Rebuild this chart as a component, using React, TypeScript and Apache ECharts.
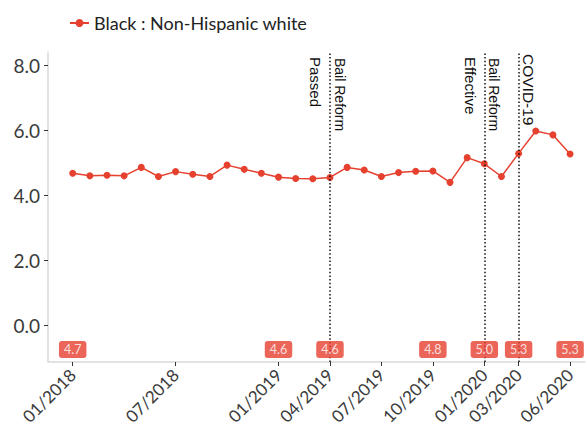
import React, { useEffect, useRef } from 'react';
import * as echarts from 'echarts';

const seriesName = 'Black : Non-Hispanic white';
// monthly values 01/2018 .. 06/2020
const values = [
  4.69, 4.61, 4.63, 4.61, 4.87, 4.59, 4.74, 4.66, 4.59, 4.94, 4.81, 4.69,
  4.57, 4.53, 4.52, 4.56, 4.87, 4.79, 4.59, 4.71, 4.75, 4.76, 4.41, 5.17,
  4.98, 4.59, 5.3, 5.99, 5.87, 5.28,
];
const tickIdx = [0, 6, 12, 15, 18, 21, 24, 26, 29];
const tickLabels = ['01/2018', '07/2018', '01/2019', '04/2019', '07/2019', '10/2019', '01/2020', '03/2020', '06/2020'];
const yTicks = [0, 2, 4, 6, 8];
const badgeIdx = [0, 12, 15, 21, 24, 26, 29];
const badgeLabels = ['4.7', '4.6', '4.6', '4.8', '5.0', '5.3', '5.3'];
const eventIdx = [15, 24, 26];
const eventRight = ['Bail Reform', 'Bail Reform', 'COVID-19'];
const eventLeft = ['Passed', 'Effective', ''];

const RED = '#e6402f';
const FONT = 'Lato, "Noto Sans", sans-serif';
const ANN_FONT = '"Liberation Sans", Arial, sans-serif';
const X_MIN = -1.44;
const X_MAX = 29.87;
const Y_MIN = -1.117;
const Y_MAX = 8.42;
const BADGE_Y = -0.73;

export default function App() {
  const ref = useRef<HTMLDivElement>(null);
  useEffect(() => {
    if (!ref.current) return;
    const chart = echarts.init(ref.current, undefined, { renderer: 'svg' });
    const option: any = {
      animation: false,
      backgroundColor: '#ffffff',
      legend: {
        data: [seriesName],
        left: 64,
        top: 9,
        itemWidth: 19,
        itemHeight: 10,
        itemGap: 5,
        textStyle: { fontFamily: FONT, fontSize: 18, color: '#222', padding: [0, 0, 0, 0] },
      },
      grid: { left: 48, right: 2, top: 52, bottom: 66, outerBoundsMode: 'none' },
      xAxis: {
        type: 'value',
        min: X_MIN,
        max: X_MAX,
        axisLine: { show: true, onZero: false, lineStyle: { color: '#d9d9d9', width: 1.5 } },
        axisTick: { show: true, customValues: tickIdx, length: 4, lineStyle: { color: '#333' } },
        axisLabel: {
          customValues: tickIdx,
          rotate: 45,
          margin: 10,
          fontFamily: FONT,
          fontSize: 17,
          color: '#3a3a3a',
          formatter: (v: number) => {
            const k = tickIdx.indexOf(Math.round(v));
            return k >= 0 ? tickLabels[k] : '';
          },
        },
        splitLine: { show: false },
      },
      yAxis: {
        type: 'value',
        min: Y_MIN,
        max: Y_MAX,
        axisLine: { show: true, onZero: false, lineStyle: { color: '#d9d9d9', width: 1.5 } },
        axisTick: { show: true, customValues: yTicks, length: 4, lineStyle: { color: '#333' } },
        axisLabel: {
          customValues: yTicks,
          margin: 8,
          fontFamily: FONT,
          fontSize: 19,
          color: '#3a3a3a',
          formatter: (v: number) => v.toFixed(1),
        },
        splitLine: { show: false },
      },
      series: [
        {
          type: 'line',
          name: seriesName,
          data: values.map((v, i) => [i, v]),
          symbol: 'circle',
          symbolSize: 7,
          lineStyle: { color: RED, width: 1.5 },
          itemStyle: { color: RED },
          markLine: {
            silent: true,
            symbol: ['none', 'none'],
            label: { show: false },
            lineStyle: { type: [1.5, 2.2], color: '#111', width: 1.5 },
            emphasis: { disabled: true },
            data: eventIdx.map((i) => ({ xAxis: i })),
          },
          z: 3,
        },
        {
          type: 'scatter',
          name: 'badges',
          data: badgeIdx.map((i) => [i, BADGE_Y]),
          symbol: 'circle',
          symbolSize: 0.1,
          itemStyle: { color: 'rgba(0,0,0,0)' },
          label: {
            show: true,
            position: 'inside',
            formatter: (p: any) => badgeLabels[p.dataIndex],
            backgroundColor: RED,
            color: '#fff',
            fontFamily: FONT,
            fontSize: 12.5,
            lineHeight: 13,
            padding: [2, 5, 2, 5],
            borderRadius: 3,
          },
          z: 5,
        },
      ],
    };
    chart.setOption(option);

    const top = chart.convertToPixel({ yAxisIndex: 0 }, Y_MAX) as number;
    const gfx: any[] = [];
    eventIdx.forEach((idx, k) => {
      const x = chart.convertToPixel({ xAxisIndex: 0 }, idx) as number;
      const isCovid = eventRight[k] === 'COVID-19';
      gfx.push({
        type: 'text',
        x: x + 10,
        y: top + (isCovid ? 2 : 6),
        rotation: -Math.PI / 2,
        silent: true,
        style: {
          text: eventRight[k],
          fontFamily: ANN_FONT,
          fontSize: isCovid ? 15.5 : 14,
          fill: '#111',
          align: 'left',
          verticalAlign: 'middle',
        },
      });
      if (eventLeft[k]) {
        gfx.push({
          type: 'text',
          x: x - 14,
          y: top + 5,
          rotation: -Math.PI / 2,
          silent: true,
          style: {
            text: eventLeft[k],
            fontFamily: ANN_FONT,
            fontSize: 15,
            fill: '#111',
            align: 'left',
            verticalAlign: 'middle',
          },
        });
      }
    });
    chart.setOption({ graphic: gfx });

    return () => chart.dispose();
  }, []);
  return (
    <div
      ref={ref}
      style={{ position: 'fixed', left: 0, top: 0, width: 587, height: 428, background: '#fff' }}
    />
  );
}
